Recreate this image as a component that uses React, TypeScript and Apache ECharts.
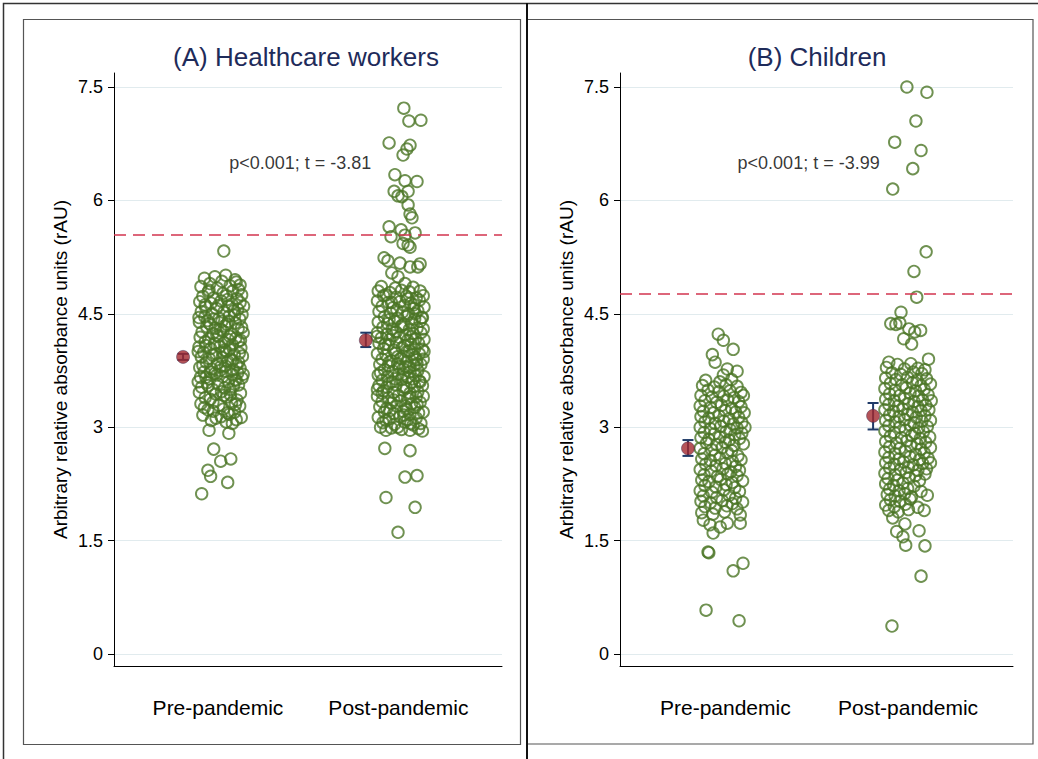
import React, { useEffect, useRef } from 'react';
import * as echarts from 'echarts';

const FONT = "'Liberation Sans', Arial, Helvetica, sans-serif";

const panelTitles = ['(A) Healthcare workers', '(B) Children'];
const groupLabels = ['Pre-pandemic', 'Post-pandemic'];
const yTicks = [0, 1.5, 3, 4.5, 6, 7.5];
const yAxisName = 'Arbitrary relative absorbance units (rAU)';
const annotations = ['p<0.001; t = -3.81', 'p<0.001; t = -3.99'];
const thresholds = [5.55, 4.76];
const labelPos = [26.8, 73.3];
const clusterCenters = [[27.5, 73.7], [26, 73]];
const meanPos = [[17.8, 64.9], [17.3, 64.4]];
const means = [[3.93, 4.15], [2.72, 3.15]];
const ciLow = [[3.89, 4.06], [2.62, 2.97]];
const ciHigh = [[3.97, 4.25], [2.83, 3.32]];
const annotationPos = [48, 6.5];

// [jitter offset, value]
const hcwPre: [number, number][] = [
  [0.8,5.33],[-4.2,4.97],[-1.5,4.99],[1.3,5.01],[3.7,4.95],[-2.8,4.9],[0.3,4.93],[5.0,4.88],
  [-5.1,4.86],[-0.9,4.84],[2.4,4.87],[4.6,4.82],
  [-3.2,4.79],[0.6,4.77],[3.1,4.8],
  [-4.6,4.73],[-1.8,4.71],[1.5,4.74],[4.2,4.7],[5.4,4.75],
  [-5.4,4.66],[-2.5,4.64],[0.1,4.67],[2.9,4.63],[5.0,4.65],
  [-3.9,4.59],[-1.1,4.57],[1.9,4.6],[4.4,4.56],
  [-5.0,4.53],[-2.2,4.5],[0.8,4.52],[3.4,4.54],[5.5,4.49],
  [-4.1,4.46],[-0.4,4.44],[2.2,4.47],[4.9,4.43],
  [-5.5,4.39],[-2.9,4.37],[0.3,4.4],[1.6,4.36],[3.8,4.38],
  [-3.6,4.33],[-1.4,4.31],[1.1,4.34],[4.5,4.3],[5.4,4.32],
  [-4.8,4.26],[-2.0,4.24],[0.6,4.27],[2.7,4.23],
  [-5.3,4.19],[-3.1,4.17],[-0.6,4.2],[1.9,4.16],[3.9,4.18],[5.1,4.15],
  [-4.0,4.13],[-1.6,4.11],[0.9,4.12],[3.0,4.09],[4.6,4.14],
  [-5.6,4.06],[-2.6,4.04],[-0.2,4.07],[2.3,4.03],[5.2,4.05],
  [-4.4,3.99],[-1.2,3.97],[1.4,4.0],[3.5,3.96],[4.8,3.98],
  [-5.0,3.93],[-3.0,3.91],[0.4,3.92],[2.6,3.9],[5.6,3.94],
  [-3.7,3.86],[-0.8,3.84],[1.8,3.87],[4.1,3.83],
  [-5.4,3.79],[-2.3,3.77],[0.0,3.8],[3.2,3.76],[5.0,3.78],
  [-4.3,3.73],[-1.5,3.71],[1.2,3.74],[2.9,3.7],[4.4,3.72],
  [-5.2,3.66],[-2.8,3.64],[0.5,3.67],[3.7,3.63],[5.5,3.65],
  [-3.5,3.59],[-0.7,3.57],[2.0,3.6],[4.6,3.56],
  [-4.9,3.53],[-2.1,3.5],[1.0,3.52],[3.3,3.54],
  [-5.5,3.46],[-1.3,3.44],[0.2,3.47],[2.5,3.43],[5.1,3.45],
  [-4.0,3.39],[-2.7,3.37],[1.6,3.4],[4.2,3.36],
  [-5.1,3.31],[-0.5,3.29],[2.8,3.32],[4.9,3.28],
  [-3.3,3.23],[-1.9,3.21],[0.7,3.24],[3.6,3.2],
  [-4.6,3.16],[0.1,3.14],[2.2,3.17],[5.3,3.13],
  [-2.4,3.09],[1.4,3.07],[4.0,3.1],
  [-3.0,4.81],[1.8,4.69],[-0.6,4.61],[3.6,4.48],[-3.4,4.41],[0.0,4.29],[-1.0,4.22],[2.4,4.2],
  [-3.8,4.08],[1.0,4.02],[-2.0,3.95],[3.0,3.88],[-4.6,3.82],[1.2,3.81],[-1.0,3.69],[4.0,3.62],
  [-3.2,3.55],[0.8,3.42],[-2.0,3.33],[3.8,3.3],[-4.2,3.26],[1.8,3.19],[-1.2,3.12],[3.0,3.05],
  [-4.0,4.62],[4.0,4.92],[-1.8,4.43],[2.0,4.4],[-0.2,3.75],[4.6,3.86],[-2.6,3.73],[2.4,3.5],
  [-3.8,3.66],[0.5,3.99],[5.8,4.25],[-5.8,4.0],[-5.8,3.6],[5.8,3.7],[-5.6,4.45],[5.9,4.6],
  [-3.0,2.96],[2.1,2.92],[-1.8,2.71],[2.6,2.58],[0,2.55],[-3.3,2.43],[-2.6,2.35],[1.8,2.27],[-4.9,2.12],
];

const hcwPost: [number, number][] = [
  [1.0,7.22],[2.3,7.05],[5.4,7.06],[-2.8,6.76],[2.6,6.73],[1.8,6.68],[0.8,6.6],[-1.3,6.34],[1.3,6.26],[4.4,6.25],
  [-1.5,6.12],[-0.5,6.06],[0.5,6.05],[2.1,6.12],[2.1,5.94],[2.6,5.82],[3.1,5.77],[-2.8,5.65],[-2.3,5.52],[0.3,5.61],
  [1.3,5.54],[3.9,5.57],[0.8,5.43],[2.1,5.41],[2.6,5.38],[-4.1,5.24],[-3.1,5.2],[0,5.17],[2.6,5.12],[4.6,5.12],
  [5.2,5.16],[-2.1,5.04],[-0.5,4.99],[1.3,4.9],
  [-4.8,4.86],[-1.2,4.84],[3.4,4.85],
  [-5.6,4.8],[-2.6,4.78],[0.4,4.81],[2.4,4.79],[5.2,4.8],
  [-4.2,4.74],[-1.0,4.72],[1.6,4.73],[4.2,4.71],[6.0,4.74],
  [-5.8,4.67],[-3.0,4.65],[0.0,4.66],[2.8,4.64],[5.0,4.68],
  [-4.6,4.6],[-1.8,4.58],[1.2,4.61],[3.6,4.57],[6.2,4.59],
  [-5.4,4.53],[-2.4,4.51],[0.6,4.52],[2.2,4.5],[4.6,4.54],
  [-4.0,4.46],[-0.6,4.44],[1.8,4.47],[3.8,4.43],[5.8,4.45],
  [-5.6,4.39],[-3.2,4.37],[-1.4,4.4],[1.0,4.36],[3.0,4.38],[5.2,4.4],
  [-4.4,4.32],[-2.0,4.3],[0.2,4.33],[2.4,4.29],[4.4,4.31],[6.0,4.3],
  [-5.8,4.25],[-3.4,4.23],[-1.0,4.26],[1.4,4.22],[3.4,4.24],[5.4,4.25],
  [-4.8,4.18],[-2.6,4.16],[-0.2,4.19],[2.0,4.15],[4.0,4.17],[6.2,4.16],
  [-5.4,4.11],[-3.0,4.09],[-0.8,4.12],[1.2,4.08],[2.8,4.1],[4.8,4.11],
  [-4.2,4.04],[-1.6,4.02],[0.6,4.05],[2.4,4.01],[3.8,4.04],[5.8,4.03],
  [-5.8,3.97],[-3.6,3.95],[-1.2,3.98],[1.0,3.94],[3.2,3.96],[5.0,3.97],
  [-4.6,3.9],[-2.2,3.88],[0.2,3.91],[1.8,3.87],[4.2,3.89],[6.0,3.9],
  [-5.2,3.83],[-3.0,3.81],[-0.6,3.84],[1.4,3.8],[3.6,3.82],[5.4,3.83],
  [-4.0,3.76],[-1.8,3.74],[0.8,3.77],[2.6,3.73],[4.6,3.75],
  [-5.6,3.69],[-3.2,3.67],[-0.4,3.7],[2.0,3.66],[4.0,3.68],[6.2,3.67],
  [-4.6,3.62],[-2.0,3.6],[0.4,3.63],[3.0,3.59],[5.0,3.61],
  [-5.4,3.55],[-3.4,3.53],[-1.0,3.56],[1.6,3.52],[3.8,3.54],[5.8,3.55],
  [-4.2,3.48],[-1.6,3.46],[0.8,3.49],[2.6,3.45],[4.6,3.47],
  [-5.8,3.41],[-3.0,3.39],[-0.4,3.42],[2.0,3.38],[4.2,3.4],[6.0,3.41],
  [-4.6,3.34],[-2.2,3.32],[0.2,3.35],[3.0,3.31],[5.2,3.33],
  [-5.2,3.27],[-3.4,3.25],[-0.8,3.28],[1.6,3.24],[3.8,3.26],
  [-4.0,3.2],[-1.6,3.18],[0.8,3.21],[2.6,3.17],[4.8,3.19],[6.0,3.2],
  [-5.6,3.13],[-2.8,3.11],[0.0,3.14],[2.0,3.1],[4.2,3.12],
  [-4.4,3.06],[-1.4,3.04],[1.2,3.07],[3.4,3.03],[5.4,3.05],
  [-2.2,2.99],[0.4,2.97],[2.6,2.96],[4.8,2.98],[5.8,2.95],
  [-3.6,4.75],[2.0,4.7],[-0.8,4.55],[4.0,4.5],[-2.8,4.42],[0.6,4.35],[-1.8,4.21],[3.0,4.2],
  [-3.8,4.1],[1.8,4.0],[-0.6,3.93],[3.8,3.92],[-2.8,3.86],[2.4,3.79],[-5.0,3.72],[0.8,3.7],
  [-1.2,3.64],[3.4,3.64],[-2.8,3.58],[1.0,3.53],[-4.6,3.45],[2.6,3.4],[-1.6,3.36],[4.4,3.3],
  [-2.6,3.22],[1.0,3.16],[-3.6,3.09],[2.8,3.05],[-0.6,3.0],[5.2,3.6],[-5.8,3.5],[6.2,4.0],
  [-5.9,4.2],[5.6,4.45],[-5.0,3.0],[3.6,4.62],[-2.2,4.65],[1.4,3.28],[-0.2,3.8],[4.4,3.84],
  [-3.6,2.96],[-3.9,2.72],[2.6,2.69],[1.3,2.34],[4.4,2.36],[-3.6,2.07],[3.9,1.94],[-0.5,1.61],
];

const childPre: [number, number][] = [
  [-1.0,4.23],[0.3,4.15],[2.8,4.03],[-2.5,3.96],[-1.8,3.86],[1.3,3.77],[3.8,3.74],[0.3,3.69],
  [-4.2,3.62],[-0.6,3.6],[2.4,3.63],
  [-5.0,3.55],[-2.0,3.53],[1.0,3.56],[3.8,3.54],
  [-3.6,3.49],[-0.8,3.47],[2.0,3.48],[4.8,3.46],
  [-5.4,3.42],[-2.6,3.4],[0.4,3.41],[3.0,3.39],[5.4,3.42],
  [-4.4,3.35],[-1.4,3.33],[1.4,3.36],[4.2,3.34],
  [-5.6,3.28],[-3.0,3.26],[-0.2,3.29],[2.4,3.25],[4.8,3.27],
  [-4.8,3.21],[-2.2,3.19],[0.8,3.22],[3.4,3.2],[5.6,3.19],
  [-5.4,3.14],[-3.4,3.12],[-0.8,3.15],[1.8,3.11],[4.2,3.13],
  [-4.4,3.07],[-1.8,3.05],[0.4,3.08],[2.8,3.04],[5.0,3.06],
  [-5.6,3.0],[-3.0,2.98],[-0.4,3.01],[2.0,2.97],[3.8,2.99],[5.8,3.0],
  [-4.6,2.93],[-2.0,2.91],[1.0,2.94],[3.2,2.9],[5.0,2.92],
  [-5.4,2.86],[-3.4,2.84],[-0.6,2.87],[1.8,2.83],[4.4,2.85],
  [-4.0,2.79],[-1.4,2.77],[0.8,2.8],[3.0,2.76],[5.4,2.78],
  [-5.6,2.72],[-2.6,2.7],[0.0,2.73],[2.4,2.69],
  [-4.6,2.65],[-1.8,2.63],[1.4,2.66],[4.0,2.62],
  [-5.2,2.58],[-3.0,2.56],[-0.6,2.59],[2.6,2.55],[4.8,2.57],
  [-4.2,2.51],[-1.6,2.49],[0.8,2.52],[3.4,2.48],
  [-5.6,2.44],[-2.8,2.42],[0.2,2.45],[2.2,2.41],[4.4,2.43],
  [-4.6,2.37],[-1.2,2.35],[1.4,2.38],[3.8,2.36],
  [-5.2,2.3],[-3.4,2.28],[-0.4,2.31],[2.6,2.27],[5.2,2.29],
  [-4.4,2.23],[-1.6,2.21],[1.0,2.24],[3.2,2.2],
  [-5.6,2.16],[-2.6,2.14],[0.4,2.17],[4.4,2.15],
  [-4.8,2.09],[-1.4,2.07],[1.8,2.1],[3.4,2.06],
  [-5.4,2.02],[-3.0,2.0],[0.0,2.03],[2.6,1.99],[5.2,2.01],
  [-4.4,1.95],[-1.8,1.93],[1.2,1.96],[3.8,1.92],
  [-5.2,1.87],[-2.4,1.85],[0.6,1.88],[4.6,1.84],
  [-4.8,1.77],[-3.1,1.71],[-2.3,1.6],[-0.5,1.68],[1.3,1.73],[4.6,1.73],[-3.6,1.35],[-3.4,1.34],[2.8,1.1],[5.3,1.2],[-4.1,0.58],[4.3,0.44],
];

const childPost: [number, number][] = [
  [0,7.5],[5.1,7.43],[2.3,7.05],[-3.1,6.77],[3.6,6.66],[1.5,6.42],[-3.6,6.15],[4.9,5.32],[1.8,5.06],[2.5,4.72],
  [-1.5,4.52],[-4.1,4.37],[-2.8,4.36],[-1.8,4.38],[0.5,4.3],[2.0,4.26],[3.5,4.28],[-0.8,4.17],[1.2,4.1],[5.5,3.9],
  [-4.6,3.86],[-2.4,3.83],[1.0,3.84],
  [-5.2,3.79],[-0.6,3.77],[2.8,3.78],[4.6,3.76],
  [-3.8,3.72],[-1.6,3.7],[1.6,3.73],[3.8,3.71],
  [-5.4,3.65],[-2.8,3.63],[0.2,3.66],[2.6,3.62],[5.0,3.64],
  [-4.2,3.58],[-1.2,3.56],[1.4,3.59],[3.6,3.55],[6.0,3.57],
  [-5.6,3.51],[-3.0,3.49],[-0.2,3.52],[2.2,3.48],[4.4,3.5],
  [-4.4,3.44],[-1.8,3.42],[0.8,3.45],[3.0,3.41],[5.4,3.43],
  [-5.4,3.37],[-3.2,3.35],[-0.6,3.38],[1.8,3.34],[4.0,3.36],[6.2,3.35],
  [-4.6,3.3],[-2.2,3.28],[0.4,3.31],[2.8,3.27],[4.8,3.29],
  [-5.6,3.23],[-3.4,3.21],[-1.0,3.24],[1.4,3.2],[3.6,3.22],[5.6,3.23],
  [-4.4,3.16],[-2.0,3.14],[0.2,3.17],[2.4,3.13],[4.6,3.15],
  [-5.4,3.09],[-3.0,3.07],[-0.6,3.1],[1.8,3.06],[3.8,3.08],[6.0,3.09],
  [-4.6,3.02],[-1.8,3.0],[0.8,3.03],[3.0,2.99],[5.2,3.01],
  [-5.6,2.95],[-3.2,2.93],[-0.4,2.96],[2.0,2.92],[4.2,2.94],
  [-4.2,2.88],[-1.4,2.86],[1.2,2.89],[3.4,2.85],[5.8,2.87],
  [-5.4,2.81],[-2.6,2.79],[0.0,2.82],[2.6,2.78],[4.8,2.8],
  [-4.4,2.74],[-1.8,2.72],[1.0,2.75],[3.6,2.71],[6.0,2.73],
  [-5.6,2.67],[-3.0,2.65],[-0.4,2.68],[2.2,2.64],[4.4,2.66],
  [-4.6,2.6],[-2.0,2.58],[0.8,2.61],[3.2,2.57],[5.4,2.59],
  [-5.4,2.53],[-3.2,2.51],[-0.8,2.54],[1.6,2.5],[4.0,2.52],[6.0,2.53],
  [-4.4,2.46],[-1.6,2.44],[0.4,2.47],[2.8,2.43],[5.0,2.45],
  [-5.6,2.39],[-3.0,2.37],[-0.2,2.4],[2.2,2.36],[4.6,2.38],
  [-4.8,2.32],[-2.4,2.3],[0.6,2.33],[3.2,2.29],
  [-5.4,2.25],[-3.4,2.23],[-1.0,2.26],[1.8,2.22],
  [-4.4,2.18],[-2.0,2.16],[0.2,2.19],[3.6,2.15],
  [-5.0,2.11],[-3.0,2.09],[-0.6,2.12],[1.2,2.08],[5.2,2.1],
  [-4.2,2.04],[-1.8,2.02],[0.8,2.05],
  [-5.4,1.97],[-3.2,1.95],[-0.4,1.98],[2.8,1.94],
  [-4.6,1.9],[-2.2,1.88],[0.4,1.91],[4.4,1.9],
  [-3.6,1.8],[-0.5,1.72],[3.1,1.63],[-2.6,1.62],[-1.0,1.55],[-0.3,1.44],[4.6,1.43],[3.6,1.03],[-3.8,0.37],
];

const panelPoints = [[hcwPre, hcwPost], [childPre, childPost]];

const GREEN = '#4b7626';

function buildOption() {
  const grids = [
    { left: 114, top: 73, width: 388, height: 593 },
    { left: 620, top: 73, width: 393, height: 593 },
  ];
  const xAxes: any[] = [];
  const yAxes: any[] = [];
  const series: any[] = [];
  for (let i = 0; i < 2; i++) {
    xAxes.push({
      type: 'value', gridIndex: i, min: 0, max: 100,
      axisLine: { show: true, onZero: false, lineStyle: { color: '#000', width: 1 } },
      axisTick: { show: false },
      splitLine: { show: false },
      axisLabel: {
        customValues: labelPos,
        formatter: (v: number) => {
          const idx = labelPos.findIndex((p) => Math.abs(p - v) < 1e-6);
          return idx >= 0 ? groupLabels[idx] : '';
        },
        margin: 31, fontSize: 21, color: '#000', fontFamily: FONT,
      },
    });
    yAxes.push({
      type: 'value', gridIndex: i, min: -0.1587, max: 7.685,
      axisLine: { show: true, onZero: false, lineStyle: { color: '#000', width: 1 } },
      axisTick: { show: true, length: 6, customValues: yTicks, lineStyle: { color: '#000', width: 1 } },
      axisLabel: { customValues: yTicks, formatter: (v: number) => String(v), fontSize: 18, margin: 11, color: '#000', fontFamily: FONT },
      splitLine: { show: true, lineStyle: { color: '#e1ebee', width: 1 } },
      name: yAxisName, nameLocation: 'middle', nameGap: 44,
      nameTextStyle: { fontSize: 19, color: '#000', fontFamily: FONT },
    });
    for (let g = 0; g < 2; g++) {
      const c = clusterCenters[i][g];
      series.push({
        type: 'scatter', xAxisIndex: i, yAxisIndex: i, silent: true,
        symbol: 'circle', symbolSize: 11.5,
        itemStyle: { color: 'rgba(0,0,0,0)', borderColor: GREEN, borderWidth: 1.9 },
        data: panelPoints[i][g].map(([dx, y]) => [c + dx, y]),
        z: 2,
      });
    }
    series.push({
      type: 'custom', xAxisIndex: i, yAxisIndex: i, silent: true, z: 3,
      data: [0, 1].map((g) => [meanPos[i][g], ciLow[i][g], ciHigh[i][g]]),
      encode: { x: 0, y: [1, 2] },
      renderItem: (_p: any, api: any) => {
        const x = api.value(0);
        const a = api.coord([x, api.value(1)]);
        const b = api.coord([x, api.value(2)]);
        const hw = 5.5;
        const style = { stroke: '#1f3a68', lineWidth: 2 };
        return {
          type: 'group',
          children: [
            { type: 'line', shape: { x1: a[0], y1: a[1], x2: b[0], y2: b[1] }, style },
            { type: 'line', shape: { x1: a[0] - hw, y1: a[1], x2: a[0] + hw, y2: a[1] }, style },
            { type: 'line', shape: { x1: b[0] - hw, y1: b[1], x2: b[0] + hw, y2: b[1] }, style },
          ],
        };
      },
    });
    series.push({
      type: 'scatter', xAxisIndex: i, yAxisIndex: i, silent: true, z: 4,
      symbol: 'circle', symbolSize: 13,
      itemStyle: { color: '#a3282e', borderColor: '#3b2a4e', borderWidth: 0.6 },
      data: [0, 1].map((g) => [meanPos[i][g], means[i][g]]),
      markLine: {
        silent: true, symbol: ['none', 'none'], label: { show: false },
        lineStyle: { color: '#d2344f', type: [12, 7], width: 1.6 },
        data: [{ yAxis: thresholds[i] }],
      },
    });
    series.push({
      type: 'scatter', xAxisIndex: i, yAxisIndex: i, silent: true, z: 5,
      symbolSize: 1, itemStyle: { color: 'rgba(0,0,0,0)' },
      data: [annotationPos],
      label: { show: true, position: 'inside', formatter: annotations[i], fontSize: 18, color: '#000', fontFamily: FONT },
    });
  }
  const graphic: any[] = [
    { type: 'rect', shape: { x: 3.5, y: 3.5, width: 1040, height: 760 }, style: { fill: 'none', stroke: '#333', lineWidth: 1.5 }, silent: true },
    { type: 'rect', shape: { x: 23.5, y: 19.5, width: 497, height: 725 }, style: { fill: 'none', stroke: '#555', lineWidth: 1.2 }, silent: true },
    { type: 'rect', shape: { x: 527, y: 19.5, width: 506, height: 724.5 }, style: { fill: 'none', stroke: '#555', lineWidth: 1.2 }, silent: true },
    { type: 'line', shape: { x1: 527, y1: 3, x2: 527, y2: 759 }, style: { stroke: '#111', lineWidth: 2 }, silent: true },
    { type: 'text', x: 306, y: 57, style: { text: panelTitles[0], fontSize: 26, fontFamily: FONT, fill: '#1e2b5a', align: 'center', verticalAlign: 'middle' }, silent: true },
    { type: 'text', x: 817, y: 57, style: { text: panelTitles[1], fontSize: 26, fontFamily: FONT, fill: '#1e2b5a', align: 'center', verticalAlign: 'middle' }, silent: true },
  ];
  return {
    animation: false,
    backgroundColor: '#fff',
    textStyle: { fontFamily: FONT },
    grid: grids,
    xAxis: xAxes,
    yAxis: yAxes,
    series,
    graphic,
  };
}

export default function App() {
  const ref = useRef<HTMLDivElement>(null);
  useEffect(() => {
    if (!ref.current) return;
    const chart = echarts.init(ref.current, undefined, { renderer: 'svg' });
    chart.setOption(buildOption() as any);
    return () => chart.dispose();
  }, []);
  return <div ref={ref} style={{ position: 'absolute', left: 0, top: 0, width: 1038, height: 759 }} />;
}
